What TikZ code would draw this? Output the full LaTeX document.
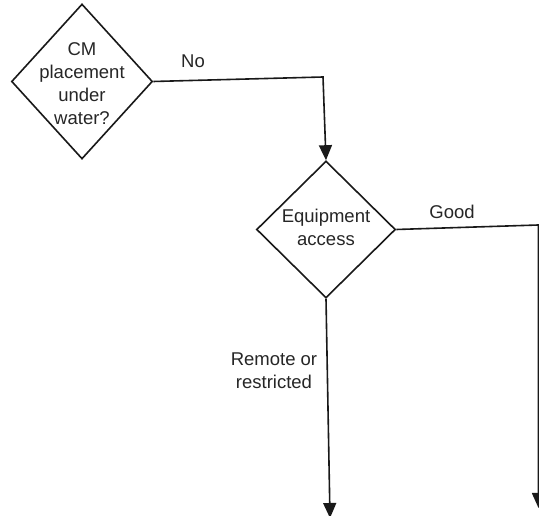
\documentclass[tikz,border=0pt]{standalone}
\usepackage{fontspec}
\setmainfont{Liberation Sans}
\usetikzlibrary{shapes.geometric,arrows.meta}
\begin{document}
\begin{tikzpicture}[x=1pt,y=1pt,
  ink/.style={draw=black!90, line width=1.6pt},
  decision/.style={ink, shape=diamond, inner sep=0pt},
  lbl/.style={font=\fontsize{18.5}{23}\selectfont, text=black!85, align=center, inner sep=0pt},
  flow/.style={ink, -{Triangle[length=15pt,width=13pt]}}]
\clip (0,0) rectangle (539,516);
\useasboundingbox (0,0) rectangle (539,516);
\fill[white] (0,0) rectangle (539,516);
% decisions
\node[decision, minimum width=141pt, minimum height=155pt] (d1) at (82,434.5) {};
\node[lbl] (t1) at (82,432) {CM\\placement\\under\\water?};
\node[decision, minimum width=139pt, minimum height=137pt] (d2) at (326,286.5) {};
\node[lbl] (t2) at (326,289) {Equipment\\access};
% helper coordinates
\coordinate (c1) at (323,439);
\coordinate (c2) at (538.5,291);
\coordinate (e2) at (538.5,8);
\coordinate (e3) at (330,-2);
% connectors
\draw[flow] (d1.east) -- (c1) -- (d2.north);
\draw[flow] (d2.east) -- (c2) -- (e2);
\draw[flow] (d2.south) -- (e3);
% labels
\node[lbl] (lno) at (193,455) {No};
\node[lbl] (lgood) at (452,304) {Good};
\node[lbl] (lrem) at (274,145) {Remote or\\restricted};
\end{tikzpicture}
\end{document}
